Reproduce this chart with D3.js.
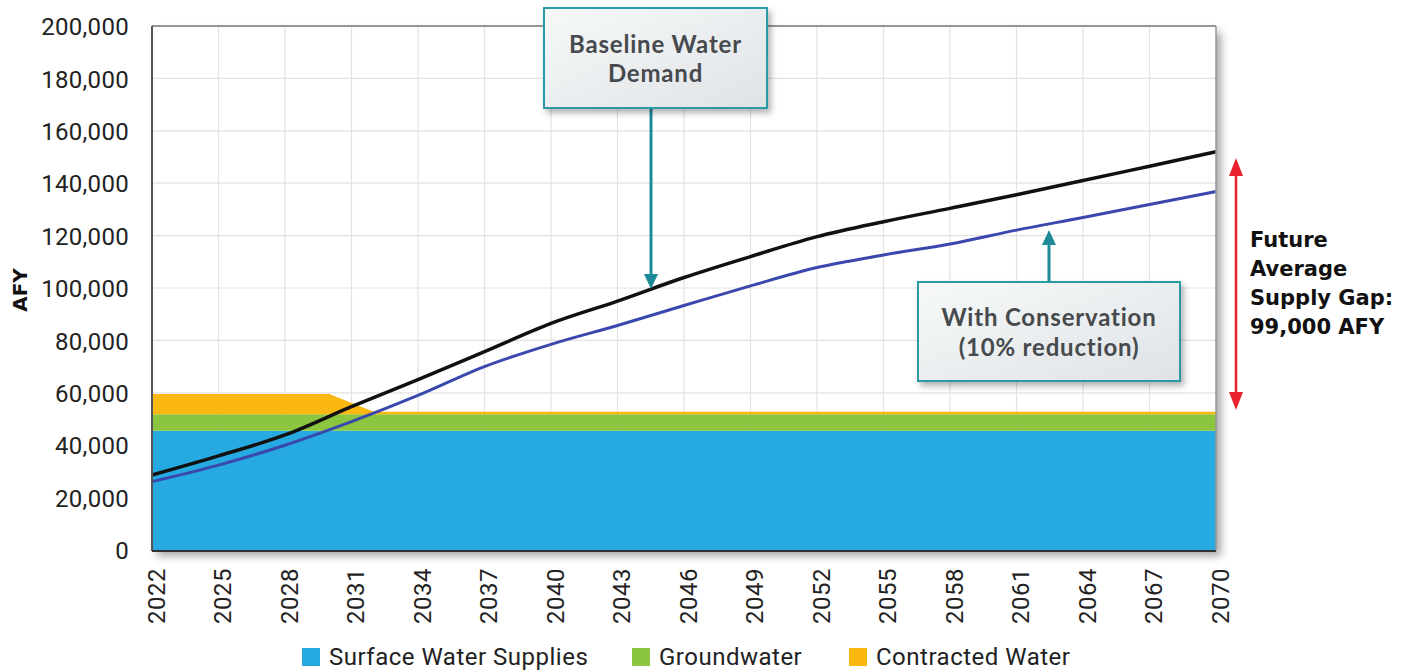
<!DOCTYPE html>
<html>
<head>
<meta charset="utf-8">
<script src="https://cdn.jsdelivr.net/npm/d3@7"></script>
<style>
  html, body { margin: 0; padding: 0; background: #fff; }
  svg { display: block; }
</style>
</head>
<body>
<svg id="chart" width="1413" height="671"></svg>
<script>
// ---- Data ----
const lineYears = [2022, 2025, 2028, 2031, 2034, 2037, 2040, 2043, 2046, 2049, 2052, 2055, 2058, 2061, 2064, 2067, 2070];
const baselineDemand = [28600, 35900, 43900, 54700, 65000, 75700, 86500, 95000, 104000, 112000, 119600, 125300, 130400, 135600, 141000, 146500, 152000];
const withConservation = [26100, 32400, 40000, 49000, 59000, 70000, 78500, 85700, 93300, 100800, 107800, 112600, 116800, 122100, 126900, 131900, 136800];

const supplyYears = [2022, 2030, 2032, 2070];
const surfaceWater = [45500, 45500, 45500, 45500];
const groundwater = [6300, 6300, 6300, 6300];
const contractedWater = [7700, 7700, 1000, 1000];

const xTicks = [2022, 2025, 2028, 2031, 2034, 2037, 2040, 2043, 2046, 2049, 2052, 2055, 2058, 2061, 2064, 2067, 2070];
const yTicks = [0, 20000, 40000, 60000, 80000, 100000, 120000, 140000, 160000, 180000, 200000];
const legendLabels = ["Surface Water Supplies", "Groundwater", "Contracted Water"];
const supplyColors = ["#27aae1", "#8cc640", "#fbb812"];

// ---- Layout ----
const svg = d3.select("#chart");
const L = 152, R = 1216, T = 26, B = 550;
const x = d3.scaleLinear().domain([2022, 2070]).range([L, R]);
const y = d3.scaleLinear().domain([0, 200000]).range([B, T]);

const defs = svg.append("defs");
const sh = defs.append("filter").attr("id", "frameShadow").attr("x", "-5%").attr("y", "-5%").attr("width", "115%").attr("height", "115%");
sh.append("feDropShadow").attr("dx", 5).attr("dy", 6).attr("stdDeviation", 4).attr("flood-color", "#000").attr("flood-opacity", 0.35);
const bs = defs.append("filter").attr("id", "boxShadow").attr("x", "-10%").attr("y", "-10%").attr("width", "130%").attr("height", "140%");
bs.append("feDropShadow").attr("dx", 3).attr("dy", 4).attr("stdDeviation", 3).attr("flood-color", "#000").attr("flood-opacity", 0.3);
const grad = defs.append("linearGradient").attr("id", "boxGrad").attr("x1", 0).attr("y1", 0).attr("x2", 1).attr("y2", 1);
grad.append("stop").attr("offset", "0%").attr("stop-color", "#f7f9f9");
grad.append("stop").attr("offset", "100%").attr("stop-color", "#dfe3e6");

// frame with shadow
svg.append("rect").attr("x", L).attr("y", T).attr("width", R - L).attr("height", B - T)
  .attr("fill", "#fff").attr("filter", "url(#frameShadow)");

// gridlines
const grid = svg.append("g");
grid.selectAll("line.h").data(yTicks.filter(d => d > 0)).join("line")
  .attr("x1", L).attr("x2", R).attr("y1", d => y(d)).attr("y2", d => y(d))
  .attr("stroke", "#e2e2e2").attr("stroke-width", 1.2);
grid.selectAll("line.v").data(xTicks.slice(1, -1)).join("line")
  .attr("x1", d => x(d)).attr("x2", d => x(d)).attr("y1", T).attr("y2", B)
  .attr("stroke", "#e2e2e2").attr("stroke-width", 1.2);

// stacked supply areas
const stackData = supplyYears.map((yr, i) => ({ year: yr, s: surfaceWater[i], g: groundwater[i], c: contractedWater[i] }));
const stack = d3.stack().keys(["s", "g", "c"]);
const series = stack(stackData);
const area = d3.area().x(d => x(d.data.year)).y0(d => y(d[0])).y1(d => y(d[1]));
svg.append("g").selectAll("path").data(series).join("path")
  .attr("d", area).attr("fill", (d, i) => supplyColors[i]);

// lines
const line = d3.line().x((d, i) => x(lineYears[i])).y(d => y(d)).curve(d3.curveMonotoneX);
svg.append("path").datum(withConservation).attr("d", line)
  .attr("fill", "none").attr("stroke", "#3a48ad").attr("stroke-width", 3);
svg.append("path").datum(baselineDemand).attr("d", line)
  .attr("fill", "none").attr("stroke", "#111").attr("stroke-width", 3.5);

// frame borders
svg.append("line").attr("x1", L).attr("x2", R).attr("y1", T).attr("y2", T).attr("stroke", "#777").attr("stroke-width", 1.5);
svg.append("line").attr("x1", R).attr("x2", R).attr("y1", T).attr("y2", B).attr("stroke", "#999").attr("stroke-width", 1.5);
svg.append("line").attr("x1", L).attr("x2", L).attr("y1", T).attr("y2", B + 1).attr("stroke", "#555").attr("stroke-width", 2);
svg.append("line").attr("x1", L).attr("x2", R).attr("y1", B + 1).attr("y2", B + 1).attr("stroke", "#333").attr("stroke-width", 2);

// axes
const yAxis = d3.axisLeft(y).tickValues(yTicks).tickSize(0).tickPadding(0).tickFormat(d3.format(","));
const gy = svg.append("g").attr("transform", `translate(${L - 23},0)`).call(yAxis);
gy.select(".domain").remove();
gy.selectAll("text").attr("font-family", "Roboto, sans-serif").attr("font-size", 24)
  .attr("letter-spacing", "0.3px").attr("fill", "#222").attr("dy", "0.36em");

const xAxis = d3.axisBottom(x).tickValues(xTicks).tickSize(0).tickFormat(d3.format("d"));
const gx = svg.append("g").attr("transform", `translate(0,${B})`).call(xAxis);
gx.select(".domain").remove();
gx.selectAll("text")
  .attr("font-family", "Roboto, sans-serif").attr("font-size", 24).attr("letter-spacing", "0.5px").attr("fill", "#222")
  .attr("transform", "rotate(-90)").attr("text-anchor", "end")
  .attr("x", -18).attr("y", 0).attr("dy", "0.36em").attr("dx", 0);
gx.selectAll(".tick").attr("transform", d => `translate(${x(d) + 4},0)`);

// AFY label
svg.append("text").attr("transform", "translate(27,290) rotate(-90)")
  .attr("text-anchor", "middle").attr("font-family", "DejaVu Sans, sans-serif")
  .attr("font-weight", "bold").attr("font-size", 20).attr("fill", "#111").text("AFY");

// annotation arrows (teal)
const teal = "#1d8b97";
function arrow(x0, y0, y1) {
  const dir = y1 > y0 ? 1 : -1;
  svg.append("line").attr("x1", x0).attr("x2", x0).attr("y1", y0).attr("y2", y1 - dir * 12)
    .attr("stroke", teal).attr("stroke-width", 3);
  svg.append("path").attr("d", `M${x0 - 7},${y1 - dir * 15} L${x0 + 7},${y1 - dir * 15} L${x0},${y1} Z`).attr("fill", teal);
}
arrow(651, 108, 289);
arrow(1049, 282, 230);

function box(x0, y0, w, h, lines, ys) {
  svg.append("rect").attr("x", x0).attr("y", y0).attr("width", w).attr("height", h)
    .attr("fill", "url(#boxGrad)").attr("stroke", "#2b9aa5").attr("stroke-width", 2)
    .attr("filter", "url(#boxShadow)");
  lines.forEach((t, i) => {
    svg.append("text").attr("x", x0 + w / 2).attr("y", ys[i]).attr("text-anchor", "middle")
      .attr("font-family", "Lato, sans-serif").attr("font-weight", "bold")
      .attr("font-size", 24).attr("letter-spacing", "0.8px").attr("fill", "#474a4d").text(t);
  });
}
box(544, 8, 223, 100, ["Baseline Water", "Demand"], [53, 82]);
box(918, 282, 262, 99, ["With Conservation", "(10% reduction)"], [326, 356]);

// red double arrow
const red = "#e8212c";
svg.append("line").attr("x1", 1236).attr("x2", 1236).attr("y1", 172).attr("y2", 396)
  .attr("stroke", red).attr("stroke-width", 2.5);
svg.append("path").attr("d", "M1229,176 L1243,176 L1236,158 Z").attr("fill", red);
svg.append("path").attr("d", "M1229,392 L1243,392 L1236,410 Z").attr("fill", red);

const gapLines = ["Future", "Average", "Supply Gap:", "99,000 AFY"];
svg.append("g").selectAll("text").data(gapLines).join("text")
  .attr("x", 1250).attr("y", (d, i) => 247 + i * 29)
  .attr("font-family", "DejaVu Sans, sans-serif").attr("font-weight", "bold")
  .attr("font-size", 21).attr("fill", "#111").text(d => d);

// legend
const legendX = [302, 632, 849];
const lg = svg.append("g");
legendLabels.forEach((t, i) => {
  lg.append("rect").attr("x", legendX[i]).attr("y", 648).attr("width", 18).attr("height", 18).attr("fill", supplyColors[i]);
  lg.append("text").attr("x", legendX[i] + 27).attr("y", 665)
    .attr("font-family", "Roboto, sans-serif").attr("font-size", 24).attr("letter-spacing", "0.5px")
    .attr("fill", "#222").text(t);
});
</script>
</body>
</html>
